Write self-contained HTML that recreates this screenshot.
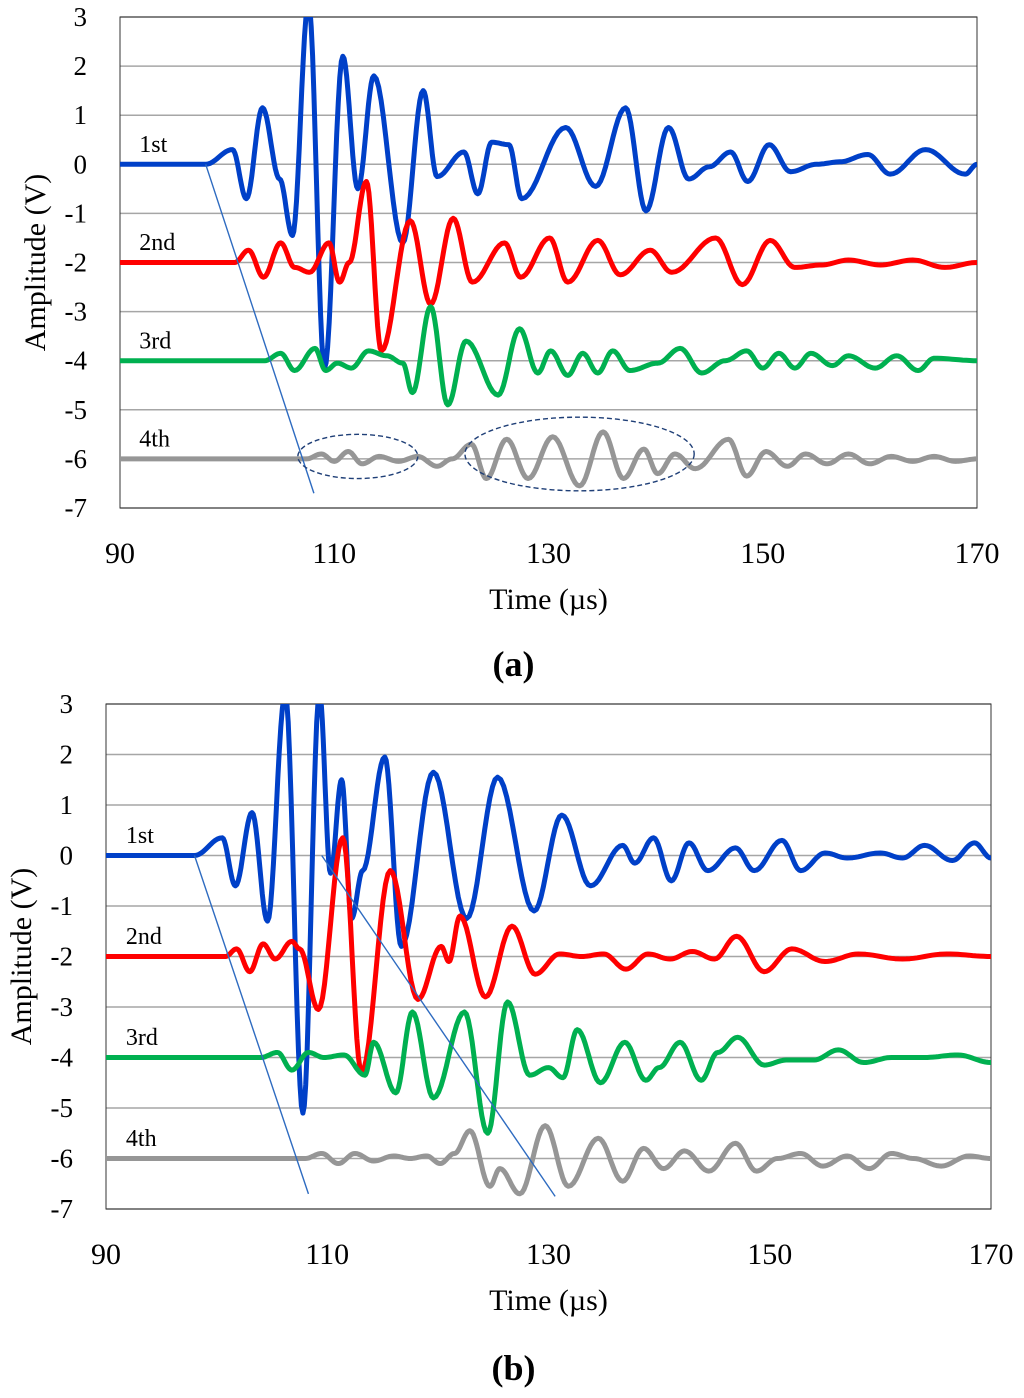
<!DOCTYPE html>
<html><head><meta charset="utf-8"><style>
body{margin:0;background:#fff;width:1024px;height:1398px;overflow:hidden}
svg{display:block}
text{font-family:"Liberation Serif",serif;fill:#000}
</style></head><body>
<svg id="fig" width="1024" height="1398" viewBox="0 0 1024 1398" xmlns="http://www.w3.org/2000/svg"></svg>
<script>
// ---- data: chart (a) extrema [time µs] and [amplitude V]
const a1T=[90,98,100.5,101.8,103.3,104.9,106.1,107.6,109.1,110.8,112.2,113.7,116.4,118.3,119.6,122.1,123.4,124.7,126.3,127.5,131.6,134.4,137.2,139.1,141.2,143.1,145,147,148.6,150.6,152.6,155,157.2,159.8,161.9,165.2,168.9,170];
const a1V=[0,0,0.3,-0.7,1.15,-0.3,-1.45,3.3,-4.15,2.2,-0.5,1.8,-1.6,1.5,-0.25,0.25,-0.6,0.45,0.4,-0.7,0.75,-0.45,1.15,-0.95,0.75,-0.3,-0.05,0.25,-0.35,0.4,-0.15,0,0.05,0.2,-0.2,0.3,-0.2,0];
const a2T=[90,100.7,102,103.4,105,106.3,107.7,109.5,110.5,111.4,113,114.4,117.1,119,121.1,122.9,125.9,127.4,130.1,131.8,134.6,136.7,139.5,141.5,145.6,148.1,150.7,153,155.5,158,161,164,167,170];
const a2V=[-2,-2,-1.75,-2.3,-1.6,-2.1,-2.2,-1.6,-2.4,-2.0,-0.35,-3.8,-1.15,-2.85,-1.1,-2.4,-1.6,-2.3,-1.5,-2.4,-1.55,-2.25,-1.75,-2.2,-1.5,-2.45,-1.55,-2.1,-2.05,-1.95,-2.05,-1.95,-2.1,-2];
const a3T=[90,103.5,105,106.3,108.2,109.2,110.3,111.6,113.2,114.9,116.4,117.3,119,120.6,122.3,125.3,127.3,129,130.2,131.8,133.2,134.6,136,137.6,140.2,142.3,144.3,146.5,148.5,150,151.5,153,154.5,156.5,158,160.5,162.5,164.5,166,170];
const a3V=[-4,-4,-3.85,-4.2,-3.75,-4.2,-4.05,-4.15,-3.8,-3.9,-4.05,-4.65,-2.9,-4.9,-3.6,-4.7,-3.35,-4.25,-3.8,-4.3,-3.85,-4.25,-3.8,-4.2,-4.05,-3.75,-4.25,-4.0,-3.8,-4.15,-3.85,-4.15,-3.85,-4.1,-3.9,-4.15,-3.9,-4.2,-3.95,-4];
const a4T=[90,107.4,108.8,110,111.3,112.6,114.2,116,117.8,119.6,121,122.8,124.2,126.1,128.1,130.4,132.9,135.1,137,138.9,140.2,141.8,143.7,146.8,148.5,150.3,152.3,154,156,158,160,162,164,166,168,170];
const a4V=[-6,-6,-5.9,-6.05,-5.85,-6.1,-5.95,-6.05,-5.95,-6.15,-6.0,-5.7,-6.4,-5.6,-6.4,-5.55,-6.55,-5.45,-6.4,-5.8,-6.3,-5.9,-6.2,-5.6,-6.35,-5.85,-6.15,-5.9,-6.1,-5.9,-6.1,-5.95,-6.05,-5.95,-6.05,-6];
// ---- data: chart (b)
const b1T=[90,98,100.5,101.7,103.2,104.6,106.2,107.8,109.3,110.3,111.3,112.2,113.2,115.2,116.7,119.6,122.6,125.4,128.7,131.2,133.8,136.7,137.8,139.5,141.1,142.7,144.4,146.9,148.6,151.1,152.8,155,157,160,162,164,166.5,168.5,170];
const b1V=[0,0,0.35,-0.6,0.85,-1.3,3.2,-5.1,3.2,-0.35,1.5,-1.25,-0.3,1.95,-1.8,1.65,-1.25,1.55,-1.1,0.8,-0.6,0.2,-0.15,0.35,-0.5,0.25,-0.3,0.15,-0.3,0.3,-0.3,0.05,-0.05,0.05,-0.05,0.2,-0.1,0.25,-0.05];
const b2T=[90,100.8,101.8,103,104.2,105.3,106.8,107.5,109.2,111.4,113.1,115.7,118.2,120.3,121,122,124.3,126.7,128.8,131,133,135,137,139,141,143,145,147,149.5,152,155,158,162,166,170];
const b2V=[-2,-2,-1.85,-2.3,-1.75,-2.05,-1.7,-1.85,-3.05,0.35,-4.3,-0.3,-2.85,-1.8,-2.1,-1.2,-2.8,-1.4,-2.35,-1.95,-2.0,-1.95,-2.25,-1.95,-2.05,-1.9,-2.05,-1.6,-2.3,-1.85,-2.1,-1.95,-2.05,-1.95,-2];
const b3T=[90,104,105.5,106.8,108.3,109.7,111.5,113.4,114.2,116.2,117.7,119.6,122.4,124.5,126.3,128.3,130,131.3,132.6,134.7,136.9,138.8,140,141.9,143.8,145.3,147.1,149.5,151.5,154,156.2,158.5,161,164,167,170];
const b3V=[-4,-4,-3.9,-4.25,-3.9,-4.0,-3.95,-4.35,-3.7,-4.7,-3.1,-4.8,-3.1,-5.5,-2.9,-4.35,-4.2,-4.4,-3.45,-4.5,-3.7,-4.45,-4.2,-3.7,-4.45,-3.9,-3.6,-4.15,-4.05,-4.05,-3.85,-4.1,-4.0,-4.0,-3.95,-4.1];
const b4T=[90,108,109.5,111,112.5,114.2,116,117.5,119,120.2,121.5,122.9,124.7,125.6,127.4,129.7,131.8,134.5,136.7,138.6,140.4,142.3,144.5,146.9,148.8,150.7,152.8,154.8,157,159,161,163,165.5,168,170];
const b4V=[-6,-6,-5.9,-6.1,-5.9,-6.05,-5.95,-6.0,-5.95,-6.1,-5.9,-5.45,-6.55,-6.2,-6.7,-5.35,-6.55,-5.6,-6.45,-5.8,-6.2,-5.85,-6.25,-5.7,-6.25,-6.0,-5.9,-6.15,-5.95,-6.2,-5.9,-6.0,-6.15,-5.95,-6];
const xTicks=[90,110,130,150,170];
const yTicks=[3,2,1,0,-1,-2,-3,-4,-5,-6,-7];
const seriesNames=["1st","2nd","3rd","4th"];
const seriesColors=["#0040c8","#ff0000","#00b050","#969696"];
const labelsA=[[91.8,0.25],[91.8,-1.75],[91.8,-3.75],[91.8,-5.75]];
const labelsB=[[91.8,0.25],[91.8,-1.75],[91.8,-3.75],[91.8,-5.75]];
// guide lines [t0,v0,t1,v1]
const guidesA=[[98,0,108.1,-6.7]];
const guidesB=[[98,0,108.3,-6.7],[109.5,0,130.6,-6.75]];
// dashed ellipses [tc,vc,rt,rv]
const ellipsesA=[[112.2,-5.95,5.6,0.45],[132.9,-5.9,10.7,0.75]];

const NS="http://www.w3.org/2000/svg";
const svg=document.getElementById('fig');
function mk(tag,attrs,parent){const e=document.createElementNS(NS,tag);for(const k in attrs)e.setAttribute(k,attrs[k]);(parent||svg).appendChild(e);return e;}

function chart(cfg){
  const g=mk('g',{});
  
  
  const X=t=>cfg.x0+(t-90)/80*(cfg.x1-cfg.x0);
  const Y=v=>cfg.y0+(3-v)/10*(cfg.y1-cfg.y0);
  const clip='clip'+cfg.id;
  const cp=mk('clipPath',{id:clip},g);
  mk('rect',{x:cfg.x0,y:cfg.y0,width:cfg.x1-cfg.x0,height:cfg.y1-cfg.y0},cp);
  yTicks.forEach(v=>{
    const l=mk('line',{x1:cfg.x0,x2:cfg.x1,y1:Y(v),y2:Y(v),stroke:'#a6a6a6','stroke-width':1.5},g);
    
    
    const t=mk('text',{x:cfg.x0-33,y:Y(v)+9,'text-anchor':'end','font-size':27},g);
    t.textContent=v;
    
    
  });
  const fr=mk('rect',{x:cfg.x0,y:cfg.y0,width:cfg.x1-cfg.x0,height:cfg.y1-cfg.y0,fill:'none',stroke:'#333','stroke-width':1},g);
  
  
  xTicks.forEach(t=>{
    const e=mk('text',{x:X(t),y:cfg.y1+55,'text-anchor':'middle','font-size':30},g);
    e.textContent=t;
    
    
  });
  const xt=mk('text',{x:(cfg.x0+cfg.x1)/2,y:cfg.y1+101,'text-anchor':'middle','font-size':30},g);
  xt.textContent='Time (µs)';
  
  
  const yt=mk('text',{x:0,y:0,'text-anchor':'middle','font-size':30,transform:`translate(${cfg.x0-75},${(cfg.y0+cfg.y1)/2}) rotate(-90)`},g);
  yt.textContent='Amplitude (V)';
  
  
  const pg=mk('g',{'clip-path':`url(#${clip})`},g);
  cfg.series.forEach((s,i)=>{
    const T=s[0],V=s[1];let d='';
    for(let k=0;k<T.length-1;k++){
      const n=12;
      for(let j=(k?1:0);j<=n;j++){
        const f=j/n,w=(1-Math.cos(Math.PI*f))/2;
        const t=T[k]+(T[k+1]-T[k])*f, v=V[k]+(V[k+1]-V[k])*w;
        d+=(d?'L':'M')+X(t).toFixed(1)+','+Y(v).toFixed(1);
      }
    }
    const p=mk('path',{d:d,fill:'none',stroke:seriesColors[i],'stroke-width':5,'stroke-linejoin':'round'},pg);
    
    
    const lb=mk('text',{x:X(cfg.labels[i][0]),y:Y(cfg.labels[i][1]),'font-size':24},g);
    lb.textContent=seriesNames[i];
    
    
  });
  cfg.guides.forEach(q=>{
    const l=mk('line',{x1:X(q[0]),y1:Y(q[1]),x2:X(q[2]),y2:Y(q[3]),stroke:'#2e6bc0','stroke-width':1.4},g);
    
    
  });
  cfg.ellipses.forEach(q=>{
    const e=mk('ellipse',{cx:X(q[0]),cy:Y(q[1]),rx:X(90+q[2])-X(90),ry:Y(0)-Y(q[3]),fill:'none',stroke:'#1f3f77','stroke-width':1.4,'stroke-dasharray':'5,3'},g);
    
    
  });
  const cap=mk('text',{x:(cfg.x0+cfg.x1)/2-35,y:cfg.capY,'text-anchor':'middle','font-size':36,'font-weight':'bold'},g);
  cap.textContent=cfg.caption;
  
  
}
chart({id:'a',name:'chart-a',x0:120,x1:977,y0:17,y1:508,capY:676,caption:'(a)',labels:labelsA,guides:guidesA,ellipses:ellipsesA,
  series:[[a1T,a1V],[a2T,a2V],[a3T,a3V],[a4T,a4V]]});
chart({id:'b',name:'chart-b',x0:106,x1:991,y0:704,y1:1209,capY:1380,caption:'(b)',labels:labelsB,guides:guidesB,ellipses:[],
  series:[[b1T,b1V],[b2T,b2V],[b3T,b3V],[b4T,b4V]]});
</script>
</body></html>
